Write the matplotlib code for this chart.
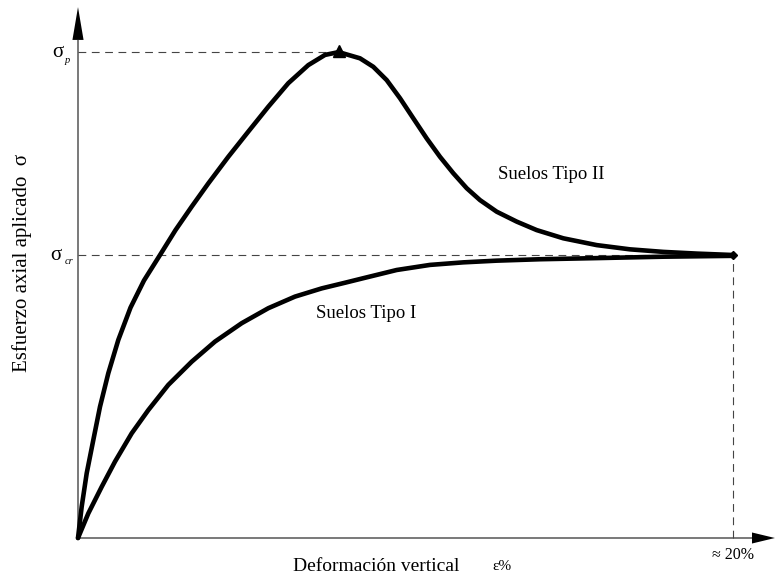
import numpy as np
import matplotlib.pyplot as plt
from matplotlib.patches import Polygon

plt.rcParams['font.family'] = ['Liberation Serif', 'DejaVu Serif']

# values (strain in %, stress relative to sigma_cr)
sigma_cr = 1.0
sigma_p = 1.717
eps_peak = 7.96
eps_end = 20.0

tipo2_eps = [0.0, 0.113, 0.266, 0.467, 0.672, 0.925, 1.231, 1.603, 2.015,
             2.504, 2.977, 3.472, 3.979, 4.589, 5.200, 5.811, 6.421, 7.032,
             7.542, 7.96, 8.611, 9.017, 9.426, 9.832, 10.238, 10.647, 11.053,
             11.459, 11.869, 12.275, 12.785, 13.395, 14.006, 14.818, 15.838,
             16.855, 17.872, 18.891, 20.0]
tipo2_sig = [0.0, 0.111, 0.229, 0.346, 0.464, 0.582, 0.700, 0.814, 0.910,
             1.0, 1.088, 1.171, 1.253, 1.347, 1.436, 1.524, 1.607, 1.671,
             1.707, 1.717, 1.695, 1.665, 1.618, 1.554, 1.483, 1.412, 1.347,
             1.289, 1.236, 1.194, 1.153, 1.118, 1.088, 1.059, 1.035, 1.020,
             1.011, 1.005, 1.0]

tipo1_eps = [0.0, 0.315, 0.724, 1.130, 1.640, 2.147, 2.757, 3.472, 4.183,
             4.998, 5.811, 6.626, 7.441, 8.153, 8.711, 9.731, 10.748, 11.765,
             12.785, 14.107, 15.838, 17.872, 20.0]
tipo1_sig = [0.0, 0.087, 0.181, 0.270, 0.370, 0.452, 0.541, 0.623, 0.694,
             0.759, 0.812, 0.853, 0.882, 0.902, 0.918, 0.947, 0.965, 0.974,
             0.980, 0.985, 0.989, 0.994, 0.997]


def main():
    fig = plt.figure(figsize=(7.76, 5.79), dpi=100)
    ax = fig.add_axes([0, 0, 1, 1])
    ax.axis('off')
    # pixel mapping: origin at (78, 538), 32.75 px per %, 283 px per sigma_cr
    ax.set_xlim(-78 / 32.75, (776 - 78) / 32.75)
    ax.set_ylim((538 - 579) / 283.0, 538 / 283.0)

    axis_col = '#555555'
    y_top = 1.76
    x_right = 20.58
    ax.plot([0, 0], [0, y_top], color=axis_col, lw=1.1, solid_capstyle='butt')
    ax.plot([0, x_right], [0, 0], color=axis_col, lw=1.1, solid_capstyle='butt')
    # arrow heads
    ax.add_patch(Polygon([[-0.17, y_top], [0.17, y_top], [0, 1.876]],
                         closed=True, color='black', lw=0))
    ax.add_patch(Polygon([[x_right, -0.0195], [x_right, 0.0195], [21.28, 0]],
                         closed=True, color='black', lw=0))

    # dashed guide lines
    dash = dict(color='#444444', lw=0.8, linestyle=(0, (7, 5)))
    ax.plot([0, eps_peak], [sigma_p, sigma_p], **dash)
    ax.plot([0, eps_end], [sigma_cr, sigma_cr], **dash)
    ax.plot([eps_end, eps_end], [0, sigma_cr], **dash)

    # curves
    ax.plot(tipo2_eps, tipo2_sig, color='black', lw=3.3,
            solid_joinstyle='round', solid_capstyle='round')
    ax.plot(tipo1_eps, tipo1_sig, color='black', lw=3.3,
            solid_joinstyle='round', solid_capstyle='round')
    ax.plot([eps_peak], [sigma_p + 0.003], marker='^', ms=8, color='black')
    ax.plot([eps_end], [sigma_cr], marker='D', ms=4, color='black')

    # sigma labels on the y axis
    ax.text(-0.611, sigma_p, u'\u03c3', fontsize=15, ha='center', va='center')
    ax.text(-0.32, 1.686, 'p', fontsize=7.5, style='italic',
            ha='center', va='center')
    ax.text(-0.69, sigma_cr, u'\u03c3', fontsize=15, ha='center', va='center')
    ax.text(-0.29, 0.977, 'cr', fontsize=7.5, style='italic',
            ha='center', va='center')

    ax.text(20.0, -0.06, u'\u2248 20%', fontsize=11.5, ha='center', va='center')

    ax.text(14.44, 1.283, 'Suelos Tipo II', fontsize=13.5, ha='center',
            va='center')
    ax.text(8.79, 0.795, 'Suelos Tipo I', fontsize=13.5, ha='center',
            va='center')

    ax.text(9.10, -0.101, u'Deformaci\u00f3n vertical', fontsize=14,
            ha='center', va='center')
    ax.text(12.95, -0.101, u'\u03b5%', fontsize=11, ha='center', va='center')

    ax.text(-1.71, 0.972, u'Esfuerzo axial aplicado  \u03c3', fontsize=15,
            rotation=90, ha='center', va='center')

    fig.savefig('out.png', dpi=100)


if __name__ == "__main__":
    main()
